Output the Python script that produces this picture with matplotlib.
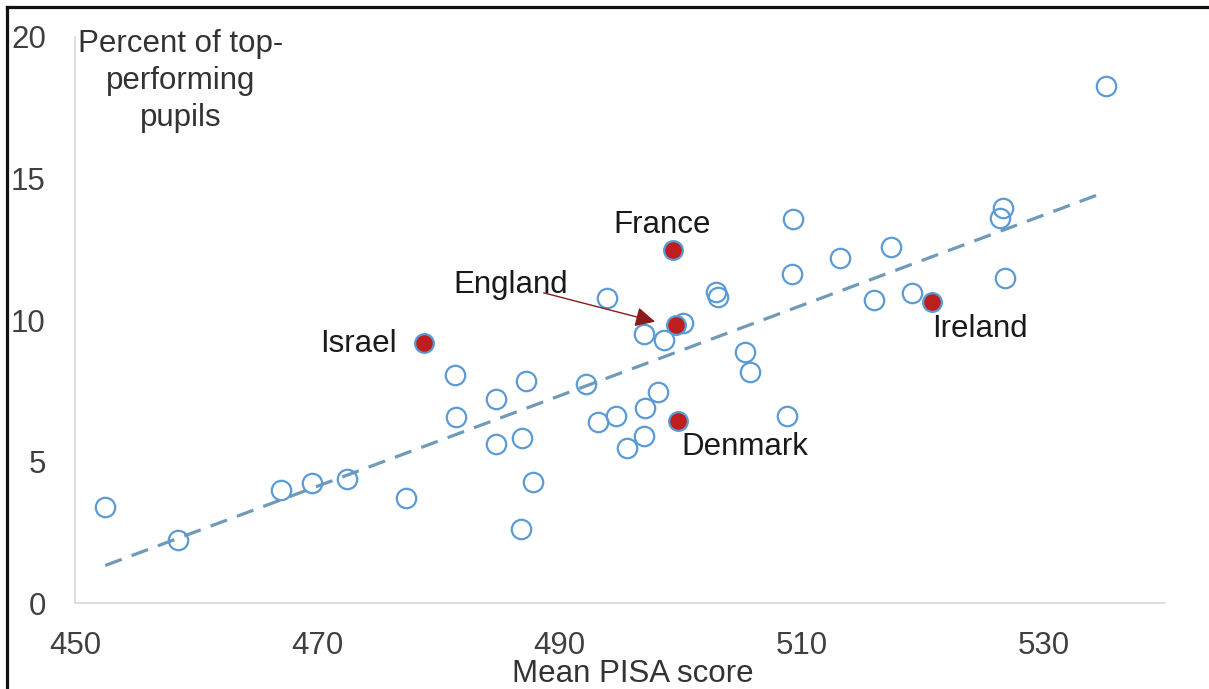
import matplotlib
matplotlib.use('Agg')
import matplotlib.pyplot as plt
from matplotlib.lines import Line2D
import numpy as np

plt.rcParams['font.family'] = ['Liberation Sans', 'DejaVu Sans']

# Mean PISA score vs percent of top-performing pupils
score = [452.5, 458.5, 467.0, 469.6, 472.5, 477.3, 481.4, 481.5, 484.8, 487.2,
         484.8, 486.9, 487.8, 486.8, 492.2, 493.2, 494.7, 497.1, 498.1, 497.0,
         495.6, 497.0, 498.6, 500.2, 505.3, 505.7, 508.8, 493.9, 509.3, 509.2,
         502.9, 503.1, 535.1, 526.6, 526.4, 526.8, 517.4, 513.2, 516.0, 519.1]
top_pct = [3.38, 2.23, 3.99, 4.23, 4.38, 3.70, 8.06, 6.58, 7.20, 7.84,
           5.61, 5.84, 4.29, 2.61, 7.74, 6.39, 6.61, 6.88, 7.47, 5.91,
           5.49, 9.49, 9.29, 9.88, 8.88, 8.15, 6.61, 10.76, 13.57, 11.61,
           10.98, 10.82, 18.27, 13.97, 13.62, 11.50, 12.59, 12.18, 10.72, 10.95]

# highlighted countries
countries = ['France', 'England', 'Israel', 'Denmark', 'Ireland']
c_score = [499.4, 499.6, 478.8, 499.8, 520.8]
c_pct = [12.47, 9.82, 9.18, 6.44, 10.65]

fig = plt.figure(figsize=(12.09, 6.89), dpi=100)
ax = fig.add_axes([0.062, 0.1248, 0.9016, 0.8215])

blue = '#5B9BD5'
red = '#BE1E1E'

all_x = np.array(score + c_score)
all_y = np.array(top_pct + c_pct)

# linear trend line over the data range
k, b = np.polyfit(all_x, all_y, 1)
xs = np.array([all_x.min(), all_x.max()])
ax.plot(xs, k * xs + b, color='#6F9AB8', lw=2.3, dashes=(5.5, 3.3), zorder=1)

ax.plot(score, top_pct, 'o', ms=14, mfc='none', mec=blue, mew=1.6, zorder=2)
ax.plot(c_score, c_pct, 'o', ms=13.5, mfc=red, mec=blue, mew=1.6, zorder=3)

# country labels
txt = dict(fontsize=22.5, color='#1a1a1a', ha='center', va='baseline')
ax.text(498.5, 13.07, 'France', **txt)
ax.text(486.0, 10.96, 'England', **txt)
ax.text(473.4, 8.86, 'Israel', **txt)
ax.text(505.3, 5.23, 'Denmark', **txt)
ax.text(524.75, 9.39, 'Ireland', **txt)

ax.annotate('', xy=(497.9, 9.94), xytext=(488.7, 10.96),
            arrowprops=dict(arrowstyle='-|>,head_length=0.6,head_width=0.3',
                            color='#8B1A1A', lw=1, mutation_scale=20,
                            shrinkA=0, shrinkB=0))

ax.text(458.7, 20.3, 'Percent of top-\nperforming\npupils', fontsize=22.5,
        color='#333333', ha='center', va='top', linespacing=1.32)

ax.set_xlim(450, 540)
ax.set_ylim(0, 20)
ax.set_xticks([450, 470, 490, 510, 530])
ax.set_yticks([0, 5, 10, 15, 20])
ax.tick_params(length=0, labelsize=22.5, labelcolor='#404040')
ax.tick_params(axis='x', pad=20)
ax.tick_params(axis='y', pad=21)
for s in ['top', 'right']:
    ax.spines[s].set_visible(False)
for s in ['left', 'bottom']:
    ax.spines[s].set_color('#d9d9d9')
    ax.spines[s].set_linewidth(1.2)

fig.text(633 / 1209, 1 - 682 / 689, 'Mean PISA score', fontsize=22.5,
         color='#333333', ha='center', va='baseline')

# black frame lines at top and left
fig.add_artist(Line2D([6.5 / 1209, 1], [1 - 6.5 / 689] * 2, color='#111111', lw=2.3))
fig.add_artist(Line2D([6.5 / 1209] * 2, [0, 1 - 6.5 / 689], color='#111111', lw=2.3))

fig.savefig('out.png', dpi=100)
